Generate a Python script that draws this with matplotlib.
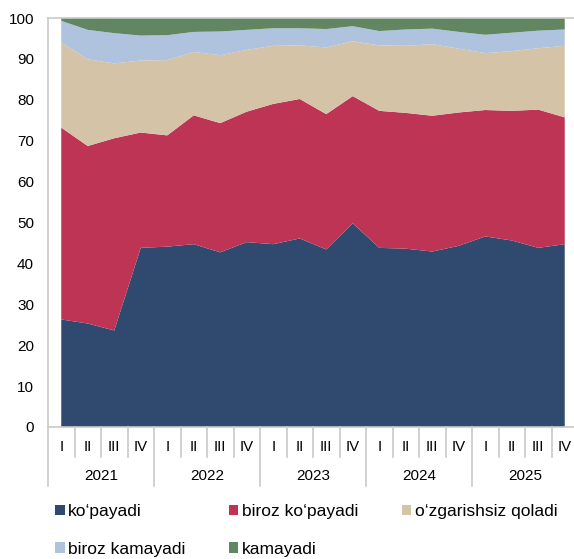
import numpy as np
import matplotlib
matplotlib.use("Agg")
import matplotlib.pyplot as plt
from matplotlib.patches import Patch
import matplotlib.transforms as mtransforms

plt.rcParams['font.family'] = ['Liberation Sans', 'DejaVu Sans']

years = ["2021", "2022", "2023", "2024", "2025"]
quarters = ["I", "II", "III", "IV"]

labels = ["ko‘payadi", "biroz ko‘payadi", "o‘zgarishsiz qoladi",
          "biroz kamayadi", "kamayadi"]
colors = ["#2F4A6E", "#BE3455", "#D5C3A8", "#AFC3DE", "#608662"]

kopayadi = [26.3, 25.3, 23.6, 43.8, 44.1, 44.7, 42.7, 45.2, 44.7, 46.1,
            43.4, 49.8, 43.8, 43.6, 42.9, 44.3, 46.6, 45.6, 43.8, 44.7]
biroz_kopayadi = [46.9, 43.4, 47.0, 28.2, 27.2, 31.5, 31.6, 31.9, 34.3, 34.1,
                  33.1, 31.1, 33.5, 33.2, 33.2, 32.6, 30.9, 31.7, 33.8, 31.0]
ozgarishsiz = [20.8, 21.2, 18.3, 17.6, 18.4, 15.5, 16.6, 15.1, 14.2, 13.1,
               16.3, 13.4, 16.0, 16.4, 17.5, 15.6, 13.9, 14.6, 15.0, 17.5]
biroz_kamayadi = [5.3, 7.2, 7.4, 6.1, 6.1, 4.9, 5.8, 4.9, 4.3, 4.2,
                  4.5, 3.7, 3.5, 4.0, 3.8, 4.1, 4.5, 4.5, 4.3, 4.0]
kamayadi = [0.7, 2.9, 3.7, 4.3, 4.2, 3.4, 3.3, 2.9, 2.5, 2.5,
            2.7, 2.0, 3.2, 2.8, 2.6, 3.4, 4.1, 3.6, 3.1, 2.8]

series = [kopayadi, biroz_kopayadi, ozgarishsiz, biroz_kamayadi, kamayadi]
n = len(kopayadi)
x = np.arange(n)

fig = plt.figure(figsize=(5.74, 5.59), dpi=100)
ax = fig.add_axes([48/574, 132/559, 530/574, 409/559])

ax.stackplot(x, *series, colors=colors, linewidth=0)

ax.set_xlim(-0.5, n - 0.5)
ax.set_ylim(0, 100)
ax.set_yticks(np.arange(0, 101, 10))
ax.tick_params(axis='y', length=0, pad=10, labelsize=11)
ax.set_xticks([])

grey = "#C9C9C9"
for s in ["left", "top", "bottom"]:
    ax.spines[s].set_color(grey)
    ax.spines[s].set_linewidth(1.2)
ax.spines["right"].set_visible(False)

# two-level category axis
trans = mtransforms.blended_transform_factory(ax.transData, ax.transAxes)
for i in range(n + 1):
    if i % 4 == 0:
        ax.plot([i - 0.5, i - 0.5], [0, -0.144], transform=trans, color=grey,
                lw=1.2, clip_on=False)
    else:
        ax.plot([i - 0.5, i - 0.5], [0, -0.073], transform=trans, color=grey,
                lw=1.2, clip_on=False)
for i in range(n):
    ax.text(i, -0.049, quarters[i % 4], transform=trans, ha='center',
            va='center', fontsize=10.8)
for j, yr in enumerate(years):
    ax.text(j * 4 + 1.5, -0.12, yr, transform=trans, ha='center',
            va='center', fontsize=11)

handles = [Patch(facecolor=c, edgecolor='none') for c in colors]
order = [0, 3, 1, 4, 2]
fig.legend([handles[i] for i in order], [labels[i] for i in order],
           ncol=3, loc='upper left', bbox_to_anchor=(55/574, 1 - 504/559),
           frameon=False, fontsize=12.5, handlelength=0.55, handleheight=0.55,
           handletextpad=0.2, columnspacing=2.5, labelspacing=1.3,
           borderpad=0, borderaxespad=0)

fig.savefig("out.png", dpi=100)
